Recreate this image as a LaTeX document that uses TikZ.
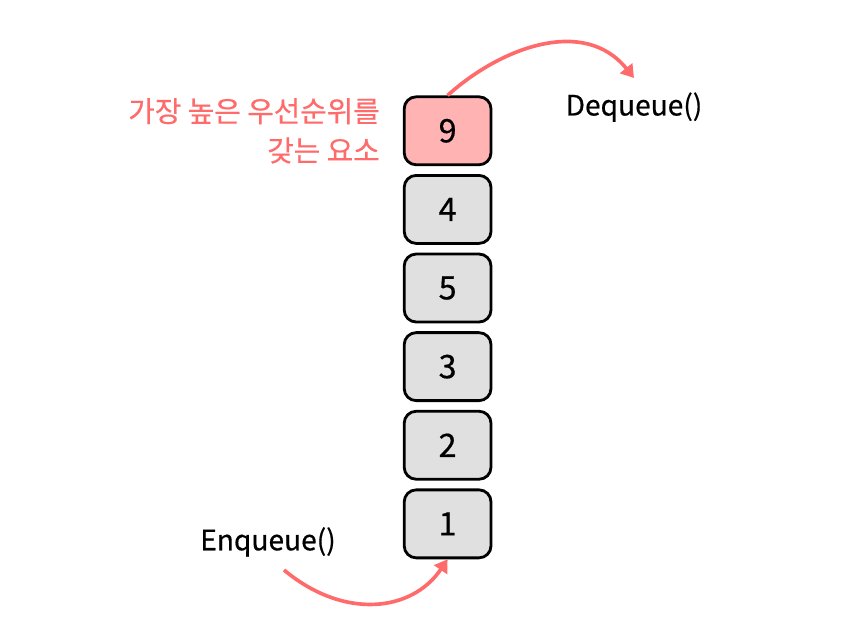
\documentclass[tikz,border=0pt]{standalone}
\usepackage{fontspec}
\setmainfont{Noto Sans CJK KR}[FakeBold=0.5]
\usepackage{tikz}
\usetikzlibrary{positioning, arrows.meta}

\definecolor{hlred}{RGB}{255,107,107}
\definecolor{hlpink}{RGB}{255,179,179}
\definecolor{boxgray}{RGB}{224,224,224}

\begin{document}
\begin{tikzpicture}[node distance=0.195cm and 0.45cm, auto]
		\useasboundingbox (0,0) rectangle (21.1,-15.825);
		% Styles
		\tikzstyle{item} = [rectangle, draw, line width=2pt, fill=boxgray,
		minimum width=2.17cm, minimum height=1.70cm, rounded corners=0.3cm,
		font=\fontsize{23}{26}\selectfont]
		\tikzstyle{top} = [item, fill=hlpink]
		\tikzstyle{label} = [font=\fontsize{20}{24}\selectfont]
		\tikzstyle{line} = [draw=hlred, line width=2.6pt, -{Triangle[length=9pt,width=11pt]}]
		
		% Nodes
		\node [top] (nine) at (11.19,-3.27) {9};
		\node [item, below=of nine] (four) {4};
		\node [item, below=of four] (five) {5};
		\node [item, below=of five] (three) {3};
		\node [item, below=of three] (two) {2};
		\node [item, below=of two] (one) {1};
		\node [label, text=hlred, align=right, font=\fontsize{20.5}{28}\selectfont,
		left=of nine] (note) {가장 높은 우선순위를\\갖는 요소};
		\node [label] (deq) at (15.85,-2.68) {Dequeue()};
		\node [label] (enq) at (6.7,-13.55) {Enqueue()};
		\coordinate (enqstart) at (7.1,-14.25);
		\coordinate (deqend) at (15.85,-1.95);
		
		% Connections
		\path [line] (nine.north) .. controls (12.5,-1.2) and (14.6,-0.4) .. (deqend);
		\path [line] (enqstart) .. controls (8.6,-15.5) and (10.3,-15.3) .. (one.south);
	\end{tikzpicture}
\end{document}
